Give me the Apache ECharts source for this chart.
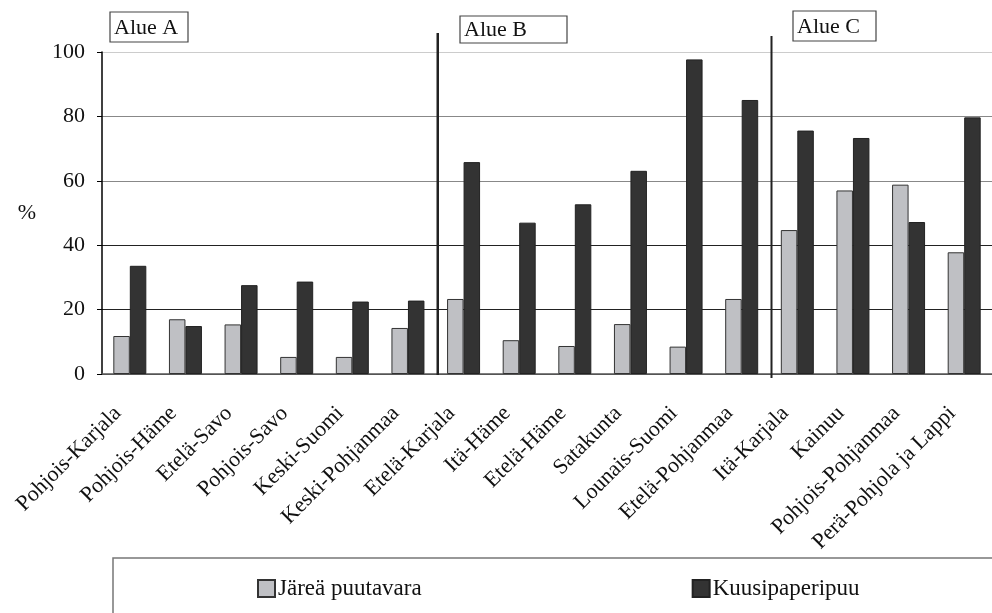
<!DOCTYPE html>
<html><head><meta charset="utf-8">
<script src="https://cdn.jsdelivr.net/npm/echarts@6/dist/echarts.min.js"></script>
<style>html,body{margin:0;padding:0;background:#fff}#c{width:992px;height:613px}</style>
</head><body><div id="c"></div>
<script>
var categories = ['Pohjois-Karjala','Pohjois-Häme','Etelä-Savo','Pohjois-Savo','Keski-Suomi','Keski-Pohjanmaa','Etelä-Karjala','Itä-Häme','Etelä-Häme','Satakunta','Lounais-Suomi','Etelä-Pohjanmaa','Itä-Karjala','Kainuu','Pohjois-Pohjanmaa','Perä-Pohjola ja Lappi'];
var jarea = [11.8, 17.0, 15.4, 5.3, 5.3, 14.3, 23.3, 10.5, 8.7, 15.5, 8.5, 23.3, 44.7, 57.0, 58.8, 37.8];
var kuusi = [33.6, 14.9, 27.6, 28.7, 22.5, 22.8, 65.8, 47.0, 52.7, 63.1, 97.7, 85.1, 75.6, 73.3, 47.2, 79.7];
var yTicks = [0, 20, 40, 60, 80, 100];
var regions = [{name:'Alue A', start:0}, {name:'Alue B', start:6}, {name:'Alue C', start:12}];
var FONT = "'Liberation Serif','Times New Roman',serif";

var chart = echarts.init(document.getElementById('c'));
chart.setOption({
  animation: false,
  backgroundColor: '#fff',
  grid: {left: 102, top: 52, bottom: 239, width: 894},
  legend: {
    left: 252, top: 572, itemWidth: 17, itemHeight: 17, itemGap: 270,
    icon: 'rect',
    textStyle: {fontFamily: FONT, fontSize: 23, color: '#111', padding: [0, 0, 0, -2]},
    data: ['Järeä puutavara', 'Kuusipaperipuu']
  },
  xAxis: {
    type: 'category', data: categories,
    axisLine: {lineStyle: {color: '#555', width: 1.5}},
    axisTick: {length: 6, lineStyle: {color: '#333'}},
    axisLabel: {rotate: 45, margin: 24, padding: [0, 17, 0, 0], fontFamily: FONT, fontSize: 22, color: '#111', interval: 0}
  },
  yAxis: {
    type: 'value', min: yTicks[0], max: yTicks[yTicks.length-1], interval: 20,
    name: '%', nameLocation: 'middle', nameRotate: 0, nameGap: 66,
    nameTextStyle: {fontFamily: FONT, fontSize: 22, color: '#111'},
    axisLine: {show: true, lineStyle: {color: '#000', width: 1.5}},
    axisTick: {show: true, length: 5, lineStyle: {color: '#000'}},
    axisLabel: {margin: 17, fontFamily: FONT, fontSize: 22, color: '#111'},
    splitLine: {lineStyle: {color: ['#555', '#222', '#222', '#888', '#888', '#ccc'], width: 1.2}}
  },
  series: [
    {name: 'Järeä puutavara', type: 'bar', data: jarea, barWidth: 16.5, barGap: '0%',
     itemStyle: {color: '#bfc0c4', borderColor: '#333', borderWidth: 1}},
    {name: 'Kuusipaperipuu', type: 'bar', data: kuusi, barWidth: 16.5, barGap: '0%',
     itemStyle: {color: '#333', borderColor: '#222', borderWidth: 1}}
  ]
});

function draw() {
  var c0 = chart.convertToPixel({xAxisIndex: 0}, categories[0]);
  var c1 = chart.convertToPixel({xAxisIndex: 0}, categories[1]);
  var band = c1 - c0;
  var y100 = chart.convertToPixel({yAxisIndex: 0}, 100);
  var y0 = chart.convertToPixel({yAxisIndex: 0}, 0);
  var els = [];
  var boxes = [
    {x: 110, y: 12, w: 78, h: 30},
    {x: 460, y: 16, w: 107, h: 27},
    {x: 793, y: 11, w: 83, h: 30}
  ];
  regions.forEach(function (r, i) {
    var b = boxes[i];
    els.push({type: 'rect', shape: {x: b.x, y: b.y, width: b.w, height: b.h},
      style: {fill: '#fff', stroke: '#444', lineWidth: 1.2}, z: 100});
    els.push({type: 'text', x: b.x + 4, y: b.y + b.h / 2 + 1,
      style: {text: r.name, font: '22px ' + FONT, fill: '#111', verticalAlign: 'middle'}, z: 101});
    if (r.start > 0) {
      var bx = chart.convertToPixel({xAxisIndex: 0}, categories[r.start]) - band / 2 + 2;
      els.push({type: 'line', shape: {x1: bx, y1: y100 - 19 + (i - 1) * 3, x2: bx, y2: y0 + 1 + (i - 1) * 3},
        style: {stroke: '#222', lineWidth: i === 1 ? 2.5 : 2}, z: 99});
    }
  });
  els.push({type: 'rect', shape: {x: 113, y: 558, width: 900, height: 100},
    style: {fill: 'none', stroke: '#777', lineWidth: 1.5}, z: 50});
  chart.setOption({graphic: els});
}
draw();
</script>
</body></html>
